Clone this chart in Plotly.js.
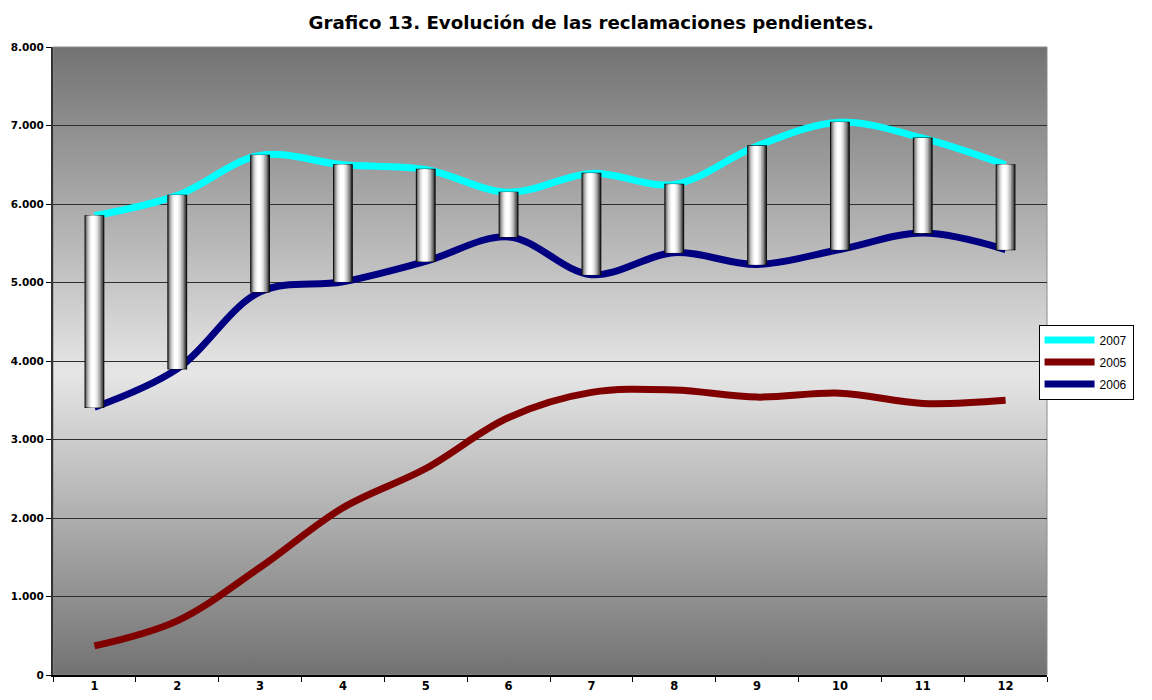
<!DOCTYPE html>
<html>
<head>
<meta charset="utf-8">
<script src="https://cdn.plot.ly/plotly-3.0.1.min.js"></script>
<style>html,body{margin:0;padding:0;background:#fff;}</style>
</head>
<body>
<div id="chart" style="width:1152px;height:700px;"></div>
<script>
// ---- data ----
const months = ['1','2','3','4','5','6','7','8','9','10','11','12'];
const y2007 = [5850, 6110, 6620, 6500, 6440, 6150, 6390, 6250, 6740, 7040, 6840, 6500];
const y2005 = [370, 690, 1370, 2130, 2630, 3280, 3600, 3630, 3540, 3590, 3460, 3500];
const y2006 = [3410, 3900, 4880, 5010, 5270, 5580, 5100, 5380, 5230, 5420, 5630, 5420];
const yTicks = [0, 1000, 2000, 3000, 4000, 5000, 6000, 7000, 8000];

// ---- up-down bars (cylinders), drawn on an overlaying subplot so they sit above lines ----
const diff = y2007.map((v, i) => v - y2006[i]);
const layers = [
  {w: 0.225, c: '#333333', off: 0},
  {w: 0.205, c: '#5f5f5f', off: -0.004},
  {w: 0.182, c: '#8c8c8c', off: -0.008},
  {w: 0.152, c: '#b6b6b6', off: -0.010},
  {w: 0.118, c: '#d9d9d9', off: -0.012},
  {w: 0.082, c: '#f1f1f1', off: -0.013},
  {w: 0.045, c: '#ffffff', off: -0.014}
];
const traces = [];
layers.forEach((L, k) => {
  traces.push({
    type: 'bar', x: months, y: diff, base: y2006,
    xaxis: 'x2', yaxis: 'y2',
    width: L.w, offset: -L.w / 2 + L.off,
    marker: {color: L.c, line: {color: k === 0 ? '#111' : L.c, width: k === 0 ? 1.2 : 0}},
    showlegend: false, hoverinfo: 'skip'
  });
});

const lineStyle = (c) => ({color: c, width: 7, shape: 'spline', smoothing: 1});
const lines = [
  {type: 'scatter', mode: 'lines', name: '2007', legendgroup: 'a', x: months, y: y2007, line: lineStyle('#00ffff')},
  {type: 'scatter', mode: 'lines', name: '2005', legendgroup: 'b', x: months, y: y2005, line: lineStyle('#800000')},
  {type: 'scatter', mode: 'lines', name: '2006', legendgroup: 'c', x: months, y: y2006, line: lineStyle('#000080')}
];

const svg = '<svg xmlns="http://www.w3.org/2000/svg" width="100" height="100" preserveAspectRatio="none">' +
  '<defs><linearGradient id="g" x1="0" y1="0" x2="0" y2="1">' +
  '<stop offset="0" stop-color="#727272"/><stop offset="0.52" stop-color="#e6e6e6"/><stop offset="1" stop-color="#727272"/>' +
  '</linearGradient></defs><rect width="100" height="100" fill="url(#g)"/></svg>';
const bgSrc = 'data:image/svg+xml;charset=utf-8,' + encodeURIComponent(svg);

const yTickFont = {family: 'DejaVu Sans', size: 10.5, color: '#000', weight: 'bold'};
const xTickFont = {family: 'DejaVu Sans', size: 11.5, color: '#000', weight: 'bold'};
const layout = {
  width: 1152, height: 700,
  margin: {l: 53, r: 105, t: 47, b: 25},
  paper_bgcolor: '#ffffff', plot_bgcolor: '#b0b0b0',
  separators: ',.',
  title: {text: 'Grafico 13. Evolución de las reclamaciones pendientes.',
          font: {family: 'DejaVu Sans', size: 18.2, color: '#000', weight: 'bold'},
          x: 0.5415, xref: 'paper', xanchor: 'center', y: 0.968, yanchor: 'middle'},
  xaxis: {type: 'category', categoryorder: 'array', categoryarray: months,
          showgrid: false, showline: true, linecolor: '#000', linewidth: 1.5,
          ticks: 'outside', ticklen: 5, tickcolor: '#000', tickson: 'boundaries',
          tickfont: xTickFont, zeroline: false, fixedrange: true},
  yaxis: {range: [0, 8000], tickvals: yTicks, tickformat: ',d',
          showgrid: true, gridcolor: '#2e2e2e', gridwidth: 1,
          showline: true, linecolor: '#333', linewidth: 2,
          ticks: 'outside', ticklen: 5, tickcolor: '#000',
          tickfont: yTickFont, zeroline: false, fixedrange: true},
  xaxis2: {type: 'category', categoryorder: 'array', categoryarray: months,
           overlaying: 'x', showgrid: false, showticklabels: false, ticks: '', showline: false, zeroline: false, matches: 'x'},
  yaxis2: {range: [0, 8000], overlaying: 'y', showgrid: false, showticklabels: false, ticks: '', showline: false, zeroline: false},
  barmode: 'overlay',
  showlegend: true,
  legend: {x: 0.9915, xanchor: 'left', y: 0.558, yanchor: 'top',
           bgcolor: '#ffffff', bordercolor: '#000', borderwidth: 1,
           font: {family: 'Liberation Sans', size: 12, color: '#000'},
           itemwidth: 50, tracegroupgap: 3, traceorder: 'grouped'},
  images: [{source: bgSrc, xref: 'paper', yref: 'paper', x: 0, y: 1, sizex: 1, sizey: 1,
            sizing: 'stretch', xanchor: 'left', yanchor: 'top', layer: 'below'}],
  shapes: [{type: 'rect', xref: 'paper', yref: 'paper', x0: 0, x1: 1, y0: 0, y1: 1,
            line: {color: '#8a8a8a', width: 1}, fillcolor: 'rgba(0,0,0,0)', layer: 'below'}]
};

Plotly.newPlot('chart', lines.concat(traces), layout, {displayModeBar: false, staticPlot: true});
</script>
</body>
</html>
